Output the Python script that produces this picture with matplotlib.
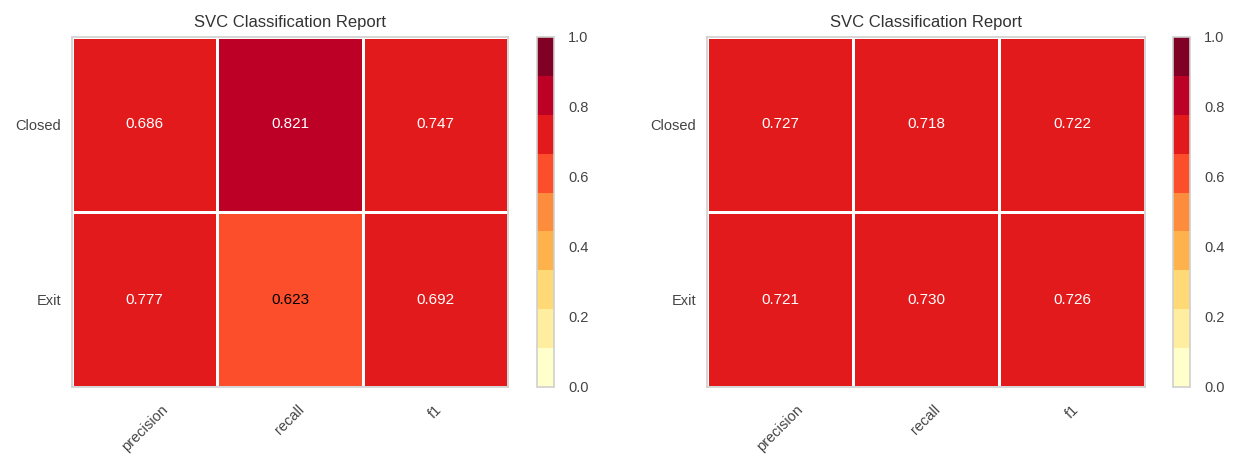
import numpy as np
import matplotlib
matplotlib.use("Agg")
import matplotlib.pyplot as plt
from matplotlib.colors import ListedColormap, BoundaryNorm

plt.rcParams['font.family'] = ['Liberation Sans', 'DejaVu Sans']

classes = ["Closed", "Exit"]
metrics = ["precision", "recall", "f1"]
left_scores = [[0.686, 0.821, 0.747],
               [0.777, 0.623, 0.692]]
right_scores = [[0.727, 0.718, 0.722],
                [0.721, 0.730, 0.726]]
title = "SVC Classification Report"
cbar_ticks = [0.0, 0.2, 0.4, 0.6, 0.8, 1.0]

ylorrd9 = ["#ffffcc", "#ffeda0", "#fed976", "#feb24c", "#fd8d3c",
           "#fc4e2a", "#e31a1c", "#bd0026", "#800026"]
cmap = ListedColormap(ylorrd9)
norm = BoundaryNorm(np.linspace(0, 1, 10), cmap.N)

spine_col = "#cfcfcf"
text_col = "#444444"

W, H = 1236, 459
fig = plt.figure(figsize=(W / 100, H / 100), dpi=100)

def px(x0, y0, x1, y1):
    return [x0 / W, 1 - y1 / H, (x1 - x0) / W, (y1 - y0) / H]

def draw(ax, cax, scores):
    data = np.array(scores)
    nrow, ncol = data.shape
    mesh = ax.pcolormesh(np.arange(ncol + 1), np.arange(nrow + 1), data[::-1],
                         cmap=cmap, norm=norm, edgecolors="white", linewidth=1.0)
    for i in range(nrow):
        for j in range(ncol):
            v = data[i, j]
            r, g, b, _ = cmap(norm(v))
            lum = 0.299 * r + 0.587 * g + 0.114 * b
            c = "black" if lum > 0.408 else "white"
            ax.text(j + 0.5, nrow - 1 - i + 0.5, f"{v:.3f}", ha="center",
                    va="center", color=c, fontsize=11)
    ax.set_xlim(0, ncol)
    ax.set_ylim(0, nrow)
    ax.set_xticks(np.arange(ncol) + 0.5)
    ax.set_xticklabels(metrics, rotation=45, ha="center")
    ax.set_yticks(np.arange(nrow) + 0.5)
    ax.set_yticklabels(classes[::-1])
    ax.tick_params(axis="x", length=0, pad=11, labelsize=10.5, colors=text_col)
    ax.tick_params(axis="y", length=0, pad=8, labelsize=10.5, colors=text_col)
    for s in ax.spines.values():
        s.set_color(spine_col)
        s.set_linewidth(1.2)
    ax.set_title(title, fontsize=12, color="#333333", pad=7)
    cb = fig.colorbar(mesh, cax=cax, ticks=cbar_ticks)
    cb.ax.minorticks_off()
    cb.ax.set_yticks(cbar_ticks)
    cb.ax.set_yticklabels([f"{t:.1f}" for t in cbar_ticks])
    cb.ax.tick_params(which="both", length=0, pad=10, labelsize=10.5,
                      colors=text_col)
    cb.outline.set_edgecolor(spine_col)
    cb.outline.set_linewidth(1.2)

ax1 = fig.add_axes(px(72, 37, 508, 387))
cax1 = fig.add_axes(px(537, 37, 554, 387))
ax2 = fig.add_axes(px(707, 37, 1145, 387))
cax2 = fig.add_axes(px(1173, 37, 1190, 387))

draw(ax1, cax1, left_scores)
draw(ax2, cax2, right_scores)

fig.savefig("out.png", dpi=100, facecolor="white")
